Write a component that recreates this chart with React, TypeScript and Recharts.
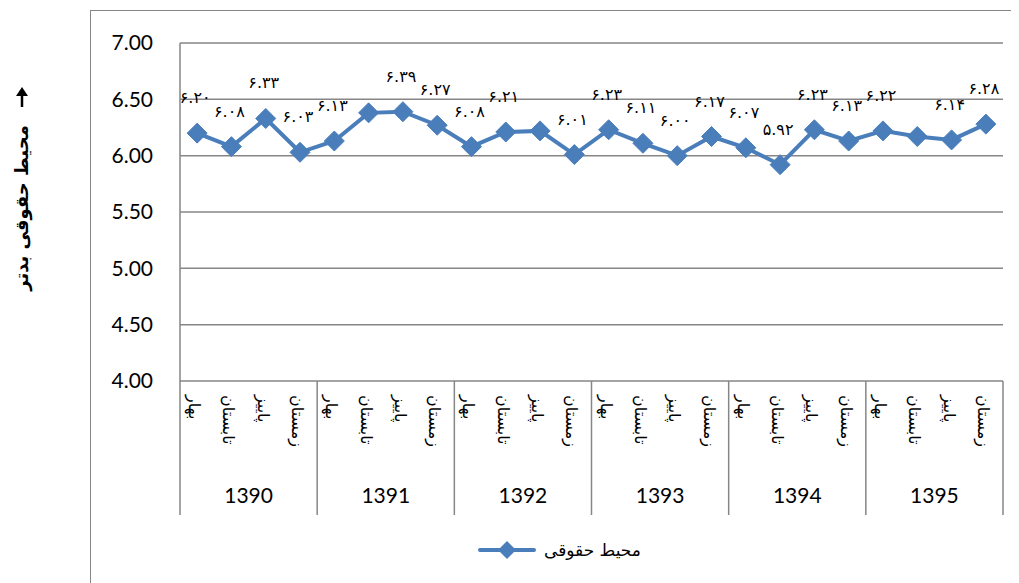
import { LineChart, Line, XAxis, YAxis, CartesianGrid, LabelList, Legend } from 'recharts';

const years = ['1390', '1391', '1392', '1393', '1394', '1395'];
const seasons = ['بهار', 'تابستان', 'پاییز', 'زمستان'];
const values = [
	6.2, 6.08, 6.33, 6.03,
	6.13, 6.38, 6.39, 6.27,
	6.08, 6.21, 6.22, 6.01,
	6.23, 6.11, 6.0, 6.17,
	6.07, 5.92, 6.23, 6.13,
	6.22, 6.17, 6.14, 6.28,
];
// labels shown on the chart (null = no label in the original)
const labels: (string | null)[] = [
	'6.20', '6.08', '6.33', '6.03',
	'6.13', null, '6.39', '6.27',
	'6.08', '6.21', null, '6.01',
	'6.23', '6.11', '6.00', '6.17',
	'6.07', '5.92', '6.23', '6.13',
	'6.22', null, '6.14', '6.28',
];
const yTicks = [4, 4.5, 5, 5.5, 6, 6.5, 7];
const seriesName = 'محیط حقوقی';

const data = values.map((v, i) => ({
	key: `${years[Math.floor(i / 4)]}-${i % 4}`,
	season: seasons[i % 4],
	year: years[Math.floor(i / 4)],
	value: v,
	label: labels[i],
}));

const BLUE = '#4A7EBB';
const GRAY = '#868686';
const FA_FONT = '"DejaVu Sans", "Noto Sans", sans-serif';
const LAT_FONT = 'Lato, "Open Sans", sans-serif';

const toPersian = (s: string) => s.replace(/[0-9]/g, (d) => '۰۱۲۳۴۵۶۷۸۹'[Number(d)]);

const Diamond = (props: any) => {
	const { cx, cy } = props;
	if (cx == null || cy == null) return null;
	const r = 10;
	return (
		<path
			d={`M${cx},${cy - r} L${cx + r},${cy} L${cx},${cy + r} L${cx - r},${cy} Z`}
			fill={BLUE}
			stroke={BLUE}
		/>
	);
};

const SeasonTick = (props: any) => {
	const { x, y, index } = props;
	return (
		<text
			transform={`translate(${x - 8},${y + 14}) rotate(90)`}
			fontFamily={FA_FONT}
			fontSize={16}
			fontWeight={400}
			fill="#000"
			stroke="none"
			textAnchor="start">
			{seasons[index % 4]}
		</text>
	);
};

const YearTick = (props: any) => {
	const { x, y, payload, index } = props;
	const half = payload.offset || 68.6;
	return (
		<g>
			<line x1={x - half} x2={x - half} y1={y - 80} y2={y + 54} stroke={GRAY} strokeWidth={1.5} />
			{index === years.length - 1 && (
				<line x1={x + half} x2={x + half} y1={y - 80} y2={y + 54} stroke={GRAY} strokeWidth={1.5} />
			)}
			<text
				x={x}
				y={y + 42}
				textAnchor="middle"
				fontFamily={LAT_FONT}
				fontSize={21}
				fontWeight={400}
				fill="#000"
				stroke="none">
				{payload.value}
			</text>
		</g>
	);
};

const PointLabel = (props: any) => {
	const { x, y, value } = props;
	if (value == null) return null;
	return (
		<text
			x={x - 2}
			y={y - 30}
			textAnchor="middle"
			fontFamily={FA_FONT}
			fontSize={16}
			fontWeight={400}
			fill="#000"
			stroke="none">
			{toPersian(String(value))}
		</text>
	);
};

const LegendContent = () => (
	<div style={{ display: 'flex', alignItems: 'center', gap: 8, whiteSpace: 'nowrap' }}>
		<svg width={58} height={20}>
			<line x1={2} x2={56} y1={10} y2={10} stroke={BLUE} strokeWidth={4} strokeLinecap="round" />
			<path d="M29,1 L38,10 L29,19 L20,10 Z" fill={BLUE} />
		</svg>
		<span style={{ fontFamily: FA_FONT, fontSize: 17, color: '#000' }}>{seriesName}</span>
	</div>
);

export default function App() {
	return (
		<div style={{ position: 'relative', width: 1011, height: 575 }}>
			<div
				style={{
					position: 'absolute',
					left: 82,
					top: 2,
					width: 929,
					height: 573,
					borderLeft: `1px solid ${GRAY}`,
					borderTop: `1px solid ${GRAY}`,
					boxSizing: 'border-box',
				}}
			/>
			<svg style={{ position: 'absolute', left: 0, top: 0 }} width={80} height={575}>
				<line x1={14} x2={14} y1={86} y2={99} stroke="#000" strokeWidth={2.5} />
				<path d="M8,88 L14,79 L20,88 Z" fill="#000" />
				<text
					transform="translate(20,200) rotate(-90)"
					textAnchor="middle"
					fontFamily={FA_FONT}
					fontWeight="bold"
					fontSize={18}
					fill="#000">
					محیط حقوقی بدتر
				</text>
			</svg>
			<div style={{ position: 'absolute', left: 0, top: 0 }}>
				<LineChart width={1011} height={575} data={data} margin={{ top: 35, right: 16, bottom: 68, left: 82 }}>
					<CartesianGrid vertical={false} stroke={GRAY} strokeWidth={1.5} xAxisId="s" />
					<XAxis
						dataKey="key"
						xAxisId="s"
						scale="band"
						height={80}
						axisLine={false}
						tickLine={false}
						tickSize={0}
						tickMargin={0}
						interval={0}
						tick={<SeasonTick />}
					/>
					<XAxis
						dataKey="year"
						xAxisId="years"
						scale="band"
						allowDuplicatedCategory={false}
						ticks={years}
						height={54}
						axisLine={false}
						tickLine={false}
						tickSize={0}
						tickMargin={0}
						interval={0}
						tick={<YearTick />}
					/>
					<YAxis
						domain={[4, 7]}
						ticks={yTicks}
						width={90}
						axisLine={{ stroke: GRAY, strokeWidth: 1.5 }}
						tickLine={false}
						tickSize={0}
						tickMargin={27}
						tickFormatter={(v: number) => v.toFixed(2)}
						tick={{ fill: '#000', fontSize: 21, fontFamily: LAT_FONT, fontWeight: 400 }}
					/>
					<Line
						type="linear"
						dataKey="value"
						xAxisId="s"
						name={seriesName}
						stroke={BLUE}
						strokeWidth={4}
						dot={<Diamond />}
						activeDot={false}
						isAnimationActive={false}>
						<LabelList dataKey="label" content={<PointLabel />} />
					</Line>
					<Legend
						layout="horizontal"
						verticalAlign="middle"
						align="center"
						content={<LegendContent />}
						wrapperStyle={{ position: 'absolute', left: 470, top: 532, width: 200 }}
					/>
				</LineChart>
			</div>
		</div>
	);
}
